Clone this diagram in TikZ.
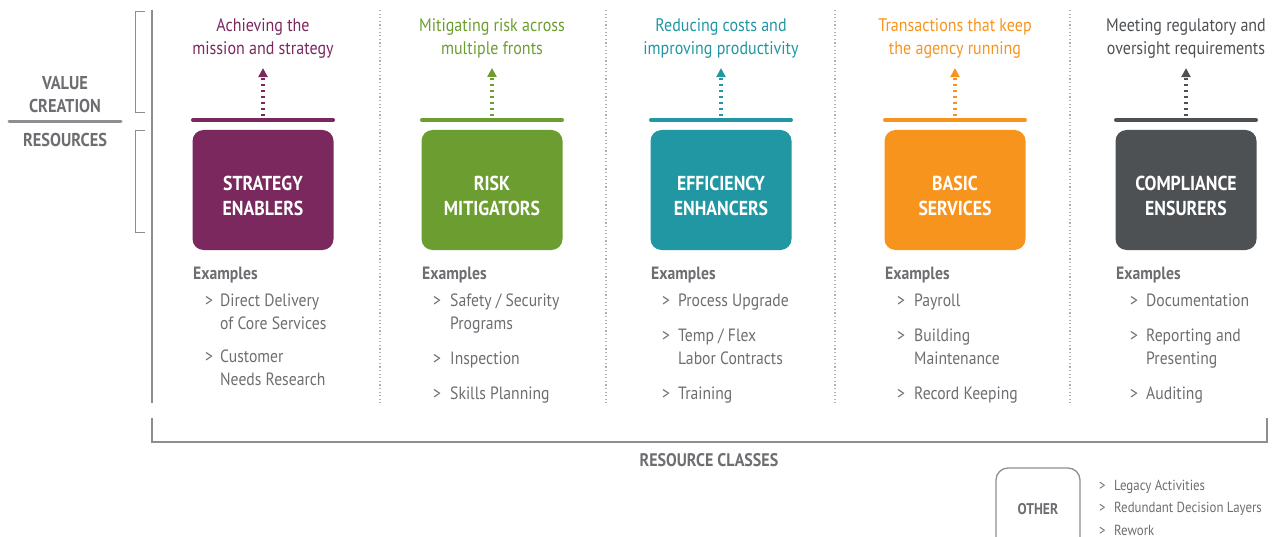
\documentclass[tikz,border=0pt]{standalone}
\usepackage{fontspec}
\setmainfont{PT Sans}[FakeStretch=0.88]
\usetikzlibrary{arrows.meta}

\definecolor{plum}{HTML}{7A285E}
\definecolor{leaf}{HTML}{6C9D30}
\definecolor{teal}{HTML}{2097A2}
\definecolor{amber}{HTML}{F7941E}
\definecolor{slate}{HTML}{4E5154}
\definecolor{txtgray}{HTML}{6D6E71}
\definecolor{rulegray}{HTML}{8C8E91}

\tikzset{
  classbox/.style={fill=#1,rounded corners=11pt,minimum width=141pt,minimum height=120pt,inner sep=0pt},
  classname/.style={text=white,align=center,font=\fontsize{20.2}{24.5}\selectfont\bfseries},
  goal/.style={text=#1,align=center,inner sep=0pt,font=\fontsize{18.2}{23}\selectfont},
  bar/.style={#1,line width=4pt,line cap=round},
  lift/.style={#1,line width=4.6pt,dash pattern=on 1.8pt off 4.2pt,-{Triangle[width=9pt,length=9pt]},shorten >=10pt},
  exhead/.style={text=txtgray,anchor=mid west,inner sep=0pt,font=\fontsize{17.8}{23}\selectfont\bfseries},
  exitem/.style={text=txtgray,anchor=mid west,inner sep=0pt,font=\fontsize{17.8}{23}\selectfont},
  sidelabel/.style={text=txtgray,align=center,inner sep=0pt,font=\fontsize{18.6}{23}\selectfont\bfseries},
  othertext/.style={text=txtgray,anchor=mid west,inner sep=0pt,font=\fontsize{14.6}{22}\selectfont},
  sep/.style={rulegray!70,line width=1.2pt,dash pattern=on 1.2pt off 2.4pt}
}

\begin{document}
\begin{tikzpicture}[x=1pt,y=-1pt,>=Triangle]
\useasboundingbox (0,0) rectangle (1273,537);

% value creation / resources split on the left
\node[sidelabel] (value) at (65,95) {VALUE\\CREATION};
\node[sidelabel] (res) at (65,140) {RESOURCES};
\draw[rulegray,line width=3pt,line cap=round] (9,122) -- (121,122);
\draw[rulegray,line width=1pt] (145,12) -| (135,113) -- (145,113);
\draw[rulegray,line width=1pt] (145,131) -| (135,233) -- (145,233);
\draw[rulegray,line width=2pt] (152,10) -- (152,403);

% column separators
\foreach \x in {380,606,835,1070}
  \draw[sep] (\x,10) -- (\x,403);

% the five classes
\foreach \x/\c/\n/\name/\aim in {
  263/plum/1/{STRATEGY\\ENABLERS}/{Achieving the\\mission and strategy},
  492/leaf/2/{RISK\\MITIGATORS}/{Mitigating risk across\\multiple fronts},
  721/teal/3/{EFFICIENCY\\ENHANCERS}/{Reducing costs and\\improving productivity},
  955/amber/4/{BASIC\\SERVICES}/{Transactions that keep\\the agency running},
  1186/slate/5/{COMPLIANCE\\ENSURERS}/{Meeting regulatory and\\oversight requirements}}{
  \node[classbox=\c] (box\n) at (\x,190) {};
  \node[classname] (name\n) at (\x,196) {\name};
  \node[goal=\c] (aim\n) at (\x,38) {\aim};
  \draw[bar=\c] (\x-70,120) -- (\x+70,120);
  \coordinate (top\n) at (\x,116);
  \draw[lift=\c] (top\n) -- (aim\n.south);
  \node[exhead] (ex\n) at (\x-70,277) {Examples};
}

% examples under each class
\foreach \y/\t [count=\i] in {304/Direct Delivery,327/of Core Services,360/Customer,383/Needs Research}
  \node[exitem] (a\i) at (220,\y) {\t};
\foreach \y [count=\i] in {304,360}
  \node[exitem] (am\i) at (205,\y) {>};

\foreach \y/\t [count=\i] in {304/{Safety / Security},327/Programs,362/Inspection,397/Skills Planning}
  \node[exitem] (b\i) at (450,\y) {\t};
\foreach \y [count=\i] in {304,362,397}
  \node[exitem] (bm\i) at (433,\y) {>};

\foreach \y/\t [count=\i] in {304/Process Upgrade,339/{Temp / Flex},362/Labor Contracts,397/Training}
  \node[exitem] (c\i) at (678,\y) {\t};
\foreach \y [count=\i] in {304,339,397}
  \node[exitem] (cm\i) at (662,\y) {>};

\foreach \y/\t [count=\i] in {304/Payroll,339/Building,362/Maintenance,397/Record Keeping}
  \node[exitem] (d\i) at (914,\y) {\t};
\foreach \y [count=\i] in {304,339,397}
  \node[exitem] (dm\i) at (897,\y) {>};

\foreach \y/\t [count=\i] in {304/Documentation,339/Reporting and,362/Presenting,397/Auditing}
  \node[exitem] (e\i) at (1146,\y) {\t};
\foreach \y [count=\i] in {304,339,397}
  \node[exitem] (em\i) at (1130,\y) {>};

% resource classes bracket
\draw[rulegray,line width=1.2pt] (152,418) |- (1267,442) -- (1267,418);
\node[sidelabel,font=\fontsize{18.2}{20}\selectfont\bfseries] (classes) at (709,460) {RESOURCE CLASSES};

% everything else
\draw[rulegray,line width=1.3pt,rounded corners=12pt] (996,545) -- (996,468) -- (1080,468) -- (1080,545);
\node[sidelabel,font=\fontsize{15.5}{20}\selectfont\bfseries] (other) at (1038,509) {OTHER};
\foreach \y/\t [count=\i] in {488/Legacy Activities,510/Redundant Decision Layers,533/Rework}{
  \node[othertext] (om\i) at (1099,\y) {>};
  \node[othertext] (o\i) at (1114,\y) {\t};
}
\end{tikzpicture}
\end{document}
